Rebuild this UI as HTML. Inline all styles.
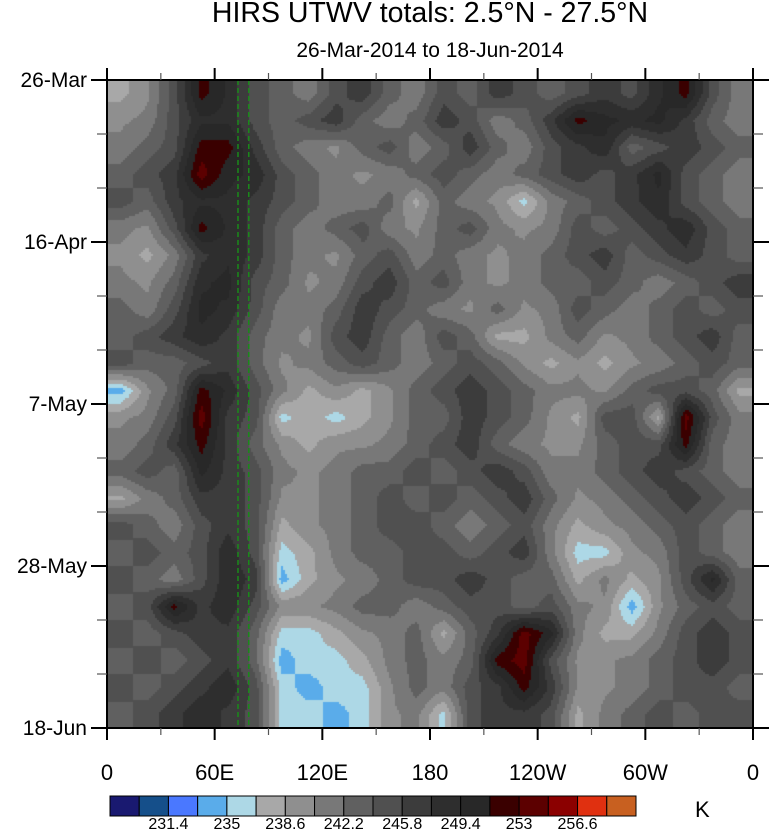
<!DOCTYPE html>
<html><head><meta charset="utf-8">
<style>
html,body{margin:0;padding:0;background:#fff;}
body{width:774px;height:830px;position:relative;overflow:hidden;font-family:"Liberation Sans",sans-serif;}
.t{position:absolute;color:#000;white-space:nowrap;}
</style></head>
<body>
<div class="t" style="left:0;width:860px;top:-3px;text-align:center;font-size:28.5px;">HIRS UTWV totals: 2.5°N - 27.5°N</div>
<div class="t" style="left:0;width:860px;top:39px;text-align:center;font-size:21px;">26-Mar-2014 to 18-Jun-2014</div>
<canvas id="cv" width="646" height="648" style="position:absolute;left:107px;top:80px;"></canvas>
<svg id="ov" width="774" height="830" style="position:absolute;left:0;top:0;"></svg>
<div class="t" style="left:695px;top:797px;font-size:22px;">K</div>
<script>
const xTickLabels=["0","60E","120E","180","120W","60W","0"];
const yTickLabels=["26-Mar","16-Apr","7-May","28-May","18-Jun"];
const levels=[229.6,231.4,233.2,235,236.8,238.6,240.4,242.2,244,245.8,247.6,249.4,251.2,253,254.8,256.6,258.4];
const levelLabels=["231.4","235","238.6","242.2","245.8","249.4","253","256.6"];
const colors=["#191970","#154f8a","#4a78ff","#5aacea","#add8e6","#a8a8a8","#8f8f8f","#787878","#606060","#505050","#3c3c3c","#2e2e2e","#282828","#3a0000","#5c0000","#8b0000","#e03010","#c86020"];
const guideLons=[73,79];
const utwv=[
[238,240,245,252,249,245,243,241,245,247,243,241,245,243,247,245,243,245,247,245,249,252,245,241],
[240,241,245,249,249,245,243,245,247,243,241,243,247,245,241,243,247,252,250,249,250,247,243,241],
[241,243,245,252,252,247,243,241,240,243,245,241,243,247,243,241,245,247,249,243,245,247,245,243],
[243,245,247,254,250,249,245,243,241,240,241,243,245,243,241,243,245,247,245,247,250,245,243,241],
[245,243,247,249,249,247,245,243,241,241,243,238,243,241,240,236,241,243,245,247,249,245,243,241],
[241,240,245,252,249,247,243,241,243,245,241,240,243,245,241,240,241,245,243,245,247,249,245,243],
[240,238,241,247,249,247,243,241,240,243,245,241,243,241,240,241,243,245,247,243,245,247,245,243],
[241,240,243,249,250,245,243,240,241,245,247,243,245,241,240,241,243,243,245,243,241,243,245,247],
[243,241,245,250,249,245,241,241,243,247,245,243,241,240,243,240,241,245,243,241,243,245,243,245],
[243,245,247,249,247,243,241,240,245,247,243,241,245,243,238,238,241,243,240,241,243,245,247,243],
[245,243,243,245,247,243,240,241,243,245,243,241,243,245,243,240,238,240,238,240,241,243,245,243],
[234,240,243,252,249,245,241,238,240,238,240,243,245,247,245,243,241,241,240,243,245,245,243,238],
[240,241,245,254,247,245,236,238,236,238,240,243,243,247,245,243,240,238,245,245,238,254,245,241],
[241,243,247,252,247,243,240,238,240,240,241,243,245,247,243,241,240,240,243,245,245,252,243,241],
[243,245,243,250,247,245,241,240,241,243,243,245,243,245,247,245,241,241,243,245,247,245,243,241],
[238,241,243,247,247,245,240,240,241,243,245,243,245,243,245,247,243,240,241,243,245,247,245,243],
[245,243,241,245,247,245,238,240,241,243,245,245,243,241,243,245,241,238,240,241,243,245,243,241],
[243,245,243,245,249,245,236,238,241,243,243,245,245,243,245,247,241,236,236,240,241,245,243,241],
[245,243,241,245,249,247,234,238,240,241,243,245,245,247,245,243,243,238,241,238,240,245,250,243],
[243,245,252,247,249,245,240,240,241,243,243,241,243,245,245,243,245,241,240,234,240,243,245,243],
[245,243,245,247,247,243,236,236,238,240,241,243,238,243,247,254,250,241,238,238,241,245,247,245],
[243,245,243,245,247,243,234,236,236,238,241,243,241,243,252,254,245,240,240,241,243,245,247,245],
[245,243,245,247,249,245,236,234,236,236,240,243,241,245,247,252,247,240,240,241,243,245,245,243],
[243,245,247,249,247,245,236,236,234,236,240,241,236,245,247,247,245,238,241,243,245,243,245,245]
];
const PX=107,PY=80,PW=646,PH=648;
const nR=utwv.length,nC=utwv[0].length;
function xLon(l){return PX+l/360*PW;}
function yDay(d){return PY+d/84*PH;}
function colorFor(v){let i=0;while(i<levels.length&&v>=levels[i])i++;return colors[i];}
function sample(fx,fy){
  let gx=Math.min(Math.max(fx-0.5,0),nC-1),gy=Math.min(Math.max(fy-0.5,0),nR-1);
  let x0=Math.floor(gx),y0=Math.floor(gy),x1=Math.min(x0+1,nC-1),y1=Math.min(y0+1,nR-1);
  let tx=gx-x0,ty=gy-y0;
  let a=utwv[y0][x0]*(1-tx)+utwv[y0][x1]*tx,b=utwv[y1][x0]*(1-tx)+utwv[y1][x1]*tx;
  return a*(1-ty)+b*ty;}
const ctx=document.getElementById('cv').getContext('2d');
const S=2;
for(let y=0;y<PH;y+=S){for(let x=0;x<PW;x+=S){
  ctx.fillStyle=colorFor(sample((x+S/2)/PW*nC,(y+S/2)/PH*nR));
  ctx.fillRect(x,y,S,S);}}
const NS='http://www.w3.org/2000/svg';
const ov=document.getElementById('ov');
function mk(tag,at,txt){const e=document.createElementNS(NS,tag);for(const k in at)e.setAttribute(k,at[k]);if(txt!==undefined)e.textContent=txt;ov.appendChild(e);return e;}
guideLons.forEach(l=>{const e=mk('line',{x1:xLon(l),x2:xLon(l),y1:PY,y2:PY+PH,stroke:'#1a8a1a','stroke-width':1.5,'stroke-dasharray':'5,3'});

});
const fr=mk('rect',{x:PX,y:PY,width:PW,height:PH,fill:'none',stroke:'#000','stroke-width':2});


for(let l=0;l<=360;l+=30){const x=xLon(l);const maj=l%60===0;const len=maj?12:7;
 mk('line',{x1:x,x2:x,y1:PY+PH,y2:PY+PH+len,stroke:maj?'#000':'#555','stroke-width':maj?2:1.2});
 mk('line',{x1:x,x2:x,y1:PY,y2:PY-len,stroke:maj?'#000':'#555','stroke-width':maj?2:1.2});}
xTickLabels.forEach((t,i)=>{const e=mk('text',{x:xLon(i*60),y:780,'text-anchor':'middle','font-size':22,'font-family':'Liberation Sans, sans-serif'},t);

});
for(let d=0;d<=84;d+=7){const y=yDay(d);const maj=d%21===0;const len=maj?16:10;
 mk('line',{x1:PX,x2:PX-len,y1:y,y2:y,stroke:maj?'#000':'#555','stroke-width':maj?2:1.2});
 mk('line',{x1:PX+PW,x2:PX+PW+len,y1:y,y2:y,stroke:maj?'#000':'#555','stroke-width':maj?2:1.2});}
yTickLabels.forEach((t,i)=>{const e=mk('text',{x:87,y:yDay(i*21)+7,'text-anchor':'end','font-size':21,'font-family':'Liberation Sans, sans-serif'},t);

});
const CBX=110,CBY=796,CBW=526,CBH=20,bw=CBW/colors.length;
colors.forEach((c,i)=>{const e=mk('rect',{x:CBX+i*bw,y:CBY,width:bw,height:CBH,fill:c,stroke:'#000','stroke-width':1});

});
levelLabels.forEach((t,i)=>{const e=mk('text',{x:CBX+(2+2*i)*bw,y:829,'text-anchor':'middle','font-size':16,'font-family':'Liberation Sans, sans-serif'},t);

});
</script>
</body></html>
